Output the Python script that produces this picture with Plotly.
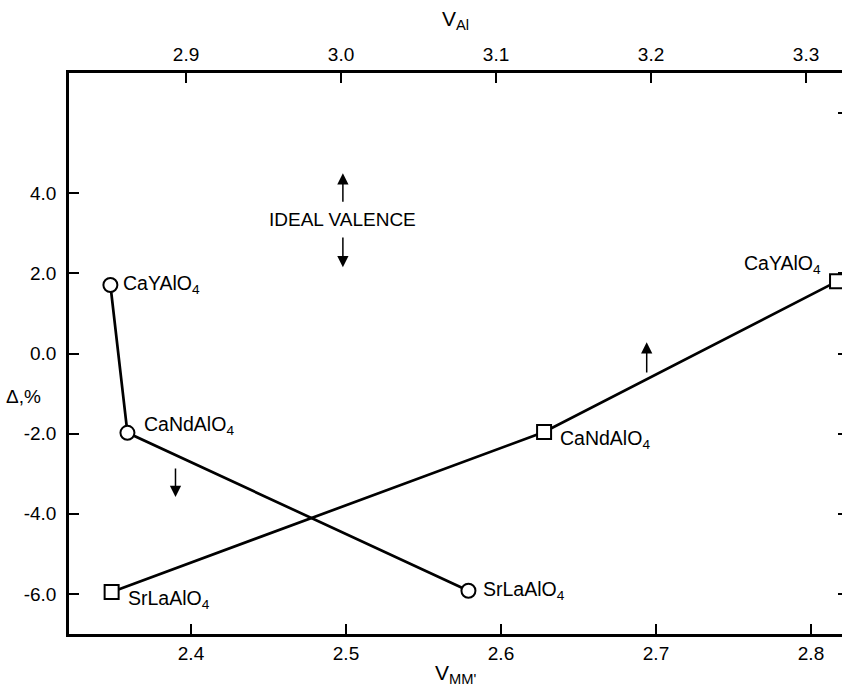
import plotly.graph_objects as go

# ---------------- data ----------------
# circles: plotted against V_MM' (bottom axis)
circle_labels = ["CaYAlO<sub>4</sub>", "CaNdAlO<sub>4</sub>", "SrLaAlO<sub>4</sub>"]
circle_vmm = [2.348, 2.359, 2.579]
circle_delta = [1.71, -1.98, -5.92]

# squares: plotted against V_Al (top axis)
square_labels = ["SrLaAlO<sub>4</sub>", "CaNdAlO<sub>4</sub>", "CaYAlO<sub>4</sub>"]
square_val = [2.852, 3.131, 3.320]
square_delta = [-5.95, -1.96, 1.80]

y_tickvals = [-6, -4, -2, 0, 2, 4]
y_ticktext = ["-6.0", "-4.0", "-2.0", "0.0", "2.0", "4.0"]
right_tickvals = [-6, -4, -2, 0, 2, 6]
bottom_tickvals = [2.4, 2.5, 2.6, 2.7, 2.8]
bottom_ticktext = ["2.4", "2.5", "2.6", "2.7", "2.8"]
top_tickvals = [2.9, 3.0, 3.1, 3.2, 3.3]
top_ticktext = ["2.9", "3.0", "3.1", "3.2", "3.3"]

# arrows (tail -> tip) in V_MM' / Delta coordinates
arrow_x = [2.498, 2.498, 2.390, 2.694]
arrow_tail = [3.75, 2.93, -2.83, -0.51]
arrow_tip = [4.50, 2.15, -3.58, 0.28]

# label offsets (px) from their points
circle_label_shift = [(11, 0), (15, 7), (13, 0)]
square_label_shift = [(14, -8), (14, -7), (-14, 17)]
square_label_anchor = ["left", "left", "right"]

FONT = "Liberation Sans, Arial, Helvetica, sans-serif"
LABEL_SIZE = 19.5

fig = go.Figure()
fig.add_trace(go.Scatter(
    x=circle_vmm, y=circle_delta, mode="lines+markers", xaxis="x", yaxis="y",
    line=dict(color="black", width=2.7),
    marker=dict(symbol="circle", size=14, color="white", line=dict(color="black", width=2)),
    showlegend=False, hoverinfo="skip"))
fig.add_trace(go.Scatter(
    x=square_val, y=square_delta, mode="lines+markers", xaxis="x2", yaxis="y",
    line=dict(color="black", width=2.7),
    marker=dict(symbol="square", size=14, color="white", line=dict(color="black", width=2)),
    showlegend=False, hoverinfo="skip", cliponaxis=False))
# invisible trace to activate the right-side tick axis
fig.add_trace(go.Scatter(x=[None], y=[None], xaxis="x", yaxis="y2", showlegend=False))

ann = []
for t, xv, yv, (dx, dy) in zip(circle_labels, circle_vmm, circle_delta, circle_label_shift):
    ann.append(dict(x=xv, y=yv, xref="x", yref="y", text=t, showarrow=False,
                    xanchor="left", yanchor="middle", xshift=dx, yshift=dy,
                    font=dict(size=LABEL_SIZE, color="black", family=FONT)))
for t, xv, yv, (dx, dy), a in zip(square_labels, square_val, square_delta,
                                   square_label_shift, square_label_anchor):
    ann.append(dict(x=xv, y=yv, xref="x2", yref="y", text=t, showarrow=False,
                    xanchor=a, yanchor="middle", xshift=dx, yshift=dy,
                    font=dict(size=LABEL_SIZE, color="black", family=FONT)))
for xv, t0, t1 in zip(arrow_x, arrow_tail, arrow_tip):
    ann.append(dict(x=xv, y=t1, ax=xv, ay=t0, xref="x", yref="y", axref="x", ayref="y",
                    text="", showarrow=True, arrowhead=2, arrowsize=1.5, arrowwidth=1.5,
                    arrowcolor="black", standoff=0, startstandoff=0))
ann.append(dict(x=2.498, y=3.35, xref="x", yref="y", text="IDEAL VALENCE", showarrow=False,
                xanchor="center", yanchor="middle",
                font=dict(size=19, color="black", family=FONT)))
ann.append(dict(x=(23 - 69) / 773.0, y=-1.07, xref="paper", yref="y", text="Δ,%",
                showarrow=False, xanchor="center", yanchor="middle",
                font=dict(size=19, color="black", family=FONT)))
ann.append(dict(x=0.5, y=-0.072, xref="paper", yref="paper", text="V<sub>MM'</sub>",
                showarrow=False, xanchor="center", yanchor="middle",
                font=dict(size=21, color="black", family=FONT)))
ann.append(dict(x=0.5, y=1.095, xref="paper", yref="paper", text="V<sub>Al</sub>",
                showarrow=False, xanchor="center", yanchor="middle",
                font=dict(size=21, color="black", family=FONT)))

axis_common = dict(showgrid=False, zeroline=False, ticks="inside", ticklen=10, tickwidth=2,
                   tickcolor="black", showline=True, linecolor="black", linewidth=2.5,
                   tickfont=dict(size=19, color="black", family=FONT))

fig.update_layout(
    width=842, height=687,
    margin=dict(l=69, r=0, t=73, b=53),
    paper_bgcolor="white", plot_bgcolor="white",
    showlegend=False,
    xaxis=dict(range=[2.3213, 2.82], tickmode="array", tickvals=bottom_tickvals,
               ticktext=bottom_ticktext, ticklabelstandoff=0, **axis_common),
    xaxis2=dict(range=[2.8245, 3.3232], overlaying="x", side="top", tickmode="array",
                tickvals=top_tickvals, ticktext=top_ticktext, ticklabelstandoff=2,
                **axis_common),
    yaxis=dict(range=[-7, 7], tickmode="array", tickvals=y_tickvals, ticktext=y_ticktext,
               ticklabelstandoff=6, **axis_common),
    yaxis2=dict(range=[-7, 7], overlaying="y", side="right", showgrid=False, zeroline=False,
                showline=False, ticks="inside", ticklen=4, tickwidth=1.5, tickcolor="black",
                tickmode="array", tickvals=right_tickvals, showticklabels=False),
    annotations=ann,
)

fig.write_html("out.html", config={"displayModeBar": False},
               post_script="document.body.style.margin='0';document.body.style.overflow='hidden';")
